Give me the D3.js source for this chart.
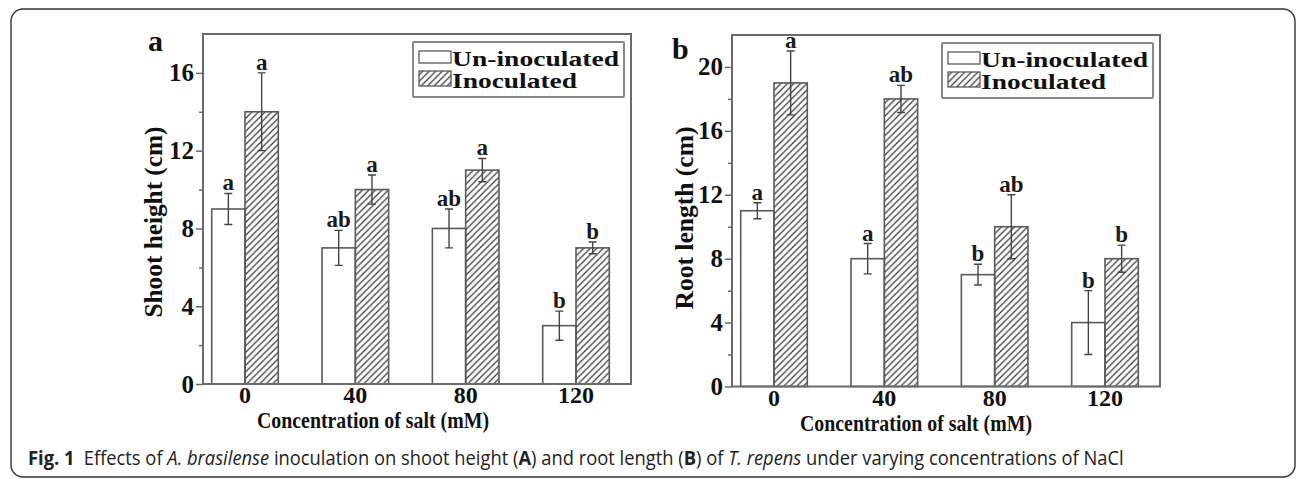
<!DOCTYPE html>
<html>
<head>
<meta charset="utf-8">
<script src="https://cdn.jsdelivr.net/npm/d3@7"></script>
<style>
  body { margin: 0; background: #fff; }
  svg { display: block; }
</style>
</head>
<body>
<svg id="fig" width="1296" height="479"></svg>
<script>
// ---- data ----
const salt = ["0", "40", "80", "120"]
const seriesNames = ["Un-inoculated", "Inoculated"]

const shootUn = [9, 7, 8, 3]
const shootUnErr = [0.8, 0.9, 1.0, 0.75]
const shootIn = [14, 10, 11, 7]
const shootInErr = [2, 0.75, 0.6, 0.3]
const shootUnLetters = ["a", "ab", "ab", "b"]
const shootInLetters = ["a", "a", "a", "b"]
const shootTicks = [0, 4, 8, 12, 16]

const rootUn = [11, 8, 7, 4]
const rootUnErr = [0.5, 0.95, 0.65, 2]
const rootIn = [19, 18, 10, 8]
const rootInErr = [2, 0.85, 2, 0.85]
const rootUnLetters = ["a", "a", "b", "b"]
const rootInLetters = ["a", "ab", "ab", "b"]
const rootTicks = [0, 4, 8, 12, 16, 20]

const serif = "'Liberation Serif','Times New Roman',serif"
const lineCol = "#6a6a6a"
const barCol = "#5a5a5a"

const svg = d3.select("#fig")

// hatch for inoculated bars
svg.append("defs").append("pattern")
  .attr("id", "hatch").attr("patternUnits", "userSpaceOnUse")
  .attr("width", 6.5).attr("height", 6.5)
  .append("path")
  .attr("d", "M-1,1 l2,-2 M0,6.5 l6.5,-6.5 M5.5,7.5 l2,-2")
  .attr("stroke", "#444").attr("stroke-width", 1.35)

// outer rounded frame of the figure
svg.append("rect").attr("x", 11).attr("y", 9).attr("width", 1284).attr("height", 468)
  .attr("rx", 12).attr("fill", "none").attr("stroke", "#333").attr("stroke-width", 1.4)

function fit(sel, w) {
  return sel.attr("textLength", w).attr("lengthAdjust", "spacingAndGlyphs")
}

const panels = [
  { left: 203, right: 631, top: 34, bottom: 384, yMax: 18, ticks: shootTicks,
    un: shootUn, unErr: shootUnErr, inoc: shootIn, inocErr: shootInErr,
    unLet: shootUnLetters, inLet: shootInLetters,
    yTitle: "Shoot height (cm)", yTitleLen: 191, yTitleX: -41, yTitleY: 222,
    label: "a", labelX: -55, labelY: 17, xTitleCx: 170, xTitleDy: 44 },
  { left: 732, right: 1160, top: 35, bottom: 386.5, yMax: 22, ticks: rootTicks,
    un: rootUn, unErr: rootUnErr, inoc: rootIn, inocErr: rootInErr,
    unLet: rootUnLetters, inLet: rootInLetters,
    yTitle: "Root length (cm)", yTitleLen: 183, yTitleX: -39, yTitleY: 218,
    label: "b", labelX: -60, labelY: 24, xTitleCx: 184, xTitleDy: 44 }
]

panels.forEach(p => {
  const g = svg.append("g")
  const y = d3.scaleLinear().domain([0, p.yMax]).range([p.bottom, p.top])
  const x = d3.scalePoint().domain(salt).range([p.left + 42, p.right - 55])
  const sub = d3.scaleBand().domain(seriesNames).range([-33.3, 33.3])

  const rows = []
  salt.forEach((c, i) => {
    rows.push({ c, s: seriesNames[0], v: p.un[i], e: p.unErr[i], l: p.unLet[i] })
    rows.push({ c, s: seriesNames[1], v: p.inoc[i], e: p.inocErr[i], l: p.inLet[i] })
  })

  g.selectAll(".bar").data(rows).join("rect").attr("class", "bar")
    .attr("x", d => x(d.c) + sub(d.s)).attr("width", sub.bandwidth())
    .attr("y", d => y(d.v)).attr("height", d => y(0) - y(d.v))
    .attr("fill", d => d.s === seriesNames[0] ? "#fff" : "url(#hatch)")
    .attr("stroke", barCol).attr("stroke-width", 1.6)

  const cx = d => x(d.c) + sub(d.s) + sub.bandwidth() / 2
  g.selectAll(".err").data(rows).join("path").attr("class", "err")
    .attr("d", d => `M${cx(d)},${y(d.v + d.e)}V${y(d.v - d.e)}M${cx(d) - 4},${y(d.v + d.e)}h8M${cx(d) - 4},${y(d.v - d.e)}h8`)
    .attr("stroke", "#444").attr("stroke-width", 1.4).attr("fill", "none")

  g.selectAll(".let").data(rows).join("text").attr("class", "let")
    .attr("x", d => cx(d)).attr("y", d => y(d.v + d.e) - 3)
    .attr("text-anchor", "middle").attr("font-family", serif).attr("font-weight", "bold")
    .attr("font-size", 23).attr("fill", "#1a1a1a").text(d => d.l)

  // frame
  g.append("rect").attr("x", p.left).attr("y", p.top)
    .attr("width", p.right - p.left).attr("height", p.bottom - p.top)
    .attr("fill", "none").attr("stroke", lineCol).attr("stroke-width", 2)

  // y axis: major and minor ticks
  const ax = g.append("g").attr("transform", `translate(${p.left},0)`)
    .call(d3.axisLeft(y).tickValues(p.ticks).tickSize(7).tickPadding(2))
  ax.select(".domain").remove()
  ax.selectAll("line").attr("stroke", lineCol).attr("stroke-width", 1.5)
  ax.selectAll("text").attr("font-family", serif).attr("font-weight", "bold")
    .attr("font-size", 25).attr("fill", "#111")
  const mn = g.append("g").attr("transform", `translate(${p.left},0)`)
    .call(d3.axisLeft(y).tickValues(d3.range(2, p.yMax, 4)).tickSize(4).tickFormat(""))
  mn.select(".domain").remove()
  mn.selectAll("line").attr("stroke", lineCol).attr("stroke-width", 1.5)

  // x tick labels
  g.selectAll(".xl").data(salt).join("text").attr("class", "xl")
    .attr("x", d => x(d)).attr("y", p.bottom + 19).attr("text-anchor", "middle")
    .attr("font-family", serif).attr("font-weight", "bold").attr("font-size", 24)
    .attr("fill", "#111").text(d => d)

  fit(g.append("text").attr("x", p.left + p.xTitleCx).attr("y", p.bottom + p.xTitleDy)
    .attr("text-anchor", "middle").attr("font-family", serif).attr("font-weight", "bold")
    .attr("font-size", 23).attr("fill", "#111").text("Concentration of salt (mM)"), 232)

  fit(g.append("text").attr("transform", `translate(${p.left + p.yTitleX},${p.yTitleY}) rotate(-90)`)
    .attr("text-anchor", "middle").attr("font-family", serif).attr("font-weight", "bold")
    .attr("font-size", 25).attr("fill", "#111").text(p.yTitle), p.yTitleLen)

  g.append("text").attr("x", p.left + p.labelX).attr("y", p.top + p.labelY)
    .attr("font-family", serif).attr("font-weight", "bold").attr("font-size", 30)
    .attr("fill", "#111").text(p.label)

  // legend
  const lg = g.append("g").attr("transform", `translate(${p.left + 210},${p.top + 8})`)
  lg.append("rect").attr("width", 211).attr("height", 55).attr("fill", "#fff")
    .attr("stroke", "#888").attr("stroke-width", 2).attr("rx", 1)
  const items = [
    { name: seriesNames[0], fill: "#fff", sy: 9, sh: 12, ty: 24, w: 167 },
    { name: seriesNames[1], fill: "url(#hatch)", sy: 29, sh: 15, ty: 46, w: 125 }
  ]
  items.forEach(it => {
    lg.append("rect").attr("x", 6).attr("y", it.sy).attr("width", 32).attr("height", it.sh)
      .attr("fill", it.fill).attr("stroke", barCol).attr("stroke-width", 1.3)
    fit(lg.append("text").attr("x", 39).attr("y", it.ty).attr("font-family", serif)
      .attr("font-weight", "bold").attr("font-size", 22).attr("fill", "#111").text(it.name), it.w)
  })
})

// caption
const cap = svg.append("text").attr("font-family", "'Open Sans','Noto Sans',sans-serif")
  .attr("font-size", 20).attr("fill", "#222")
const parts = [
  ["Fig. 1", "bold", "normal"], ["\u2002Effects of ", "normal", "normal"],
  ["A. brasilense", "normal", "italic"], [" inoculation on shoot height (", "normal", "normal"],
  ["A", "bold", "normal"], [") and root length (", "normal", "normal"],
  ["B", "bold", "normal"], [") of ", "normal", "normal"],
  ["T. repens", "normal", "italic"], [" under varying concentrations of NaCl", "normal", "normal"]
]
cap.selectAll("tspan").data(parts).join("tspan")
  .attr("font-weight", d => d[1]).attr("font-style", d => d[2])
  .attr("xml:space", "preserve").style("white-space", "pre").text(d => d[0])
const capW = cap.node().getComputedTextLength()
cap.attr("transform", `translate(28,465) scale(${1096 / capW},1)`)
</script>
</body>
</html>
